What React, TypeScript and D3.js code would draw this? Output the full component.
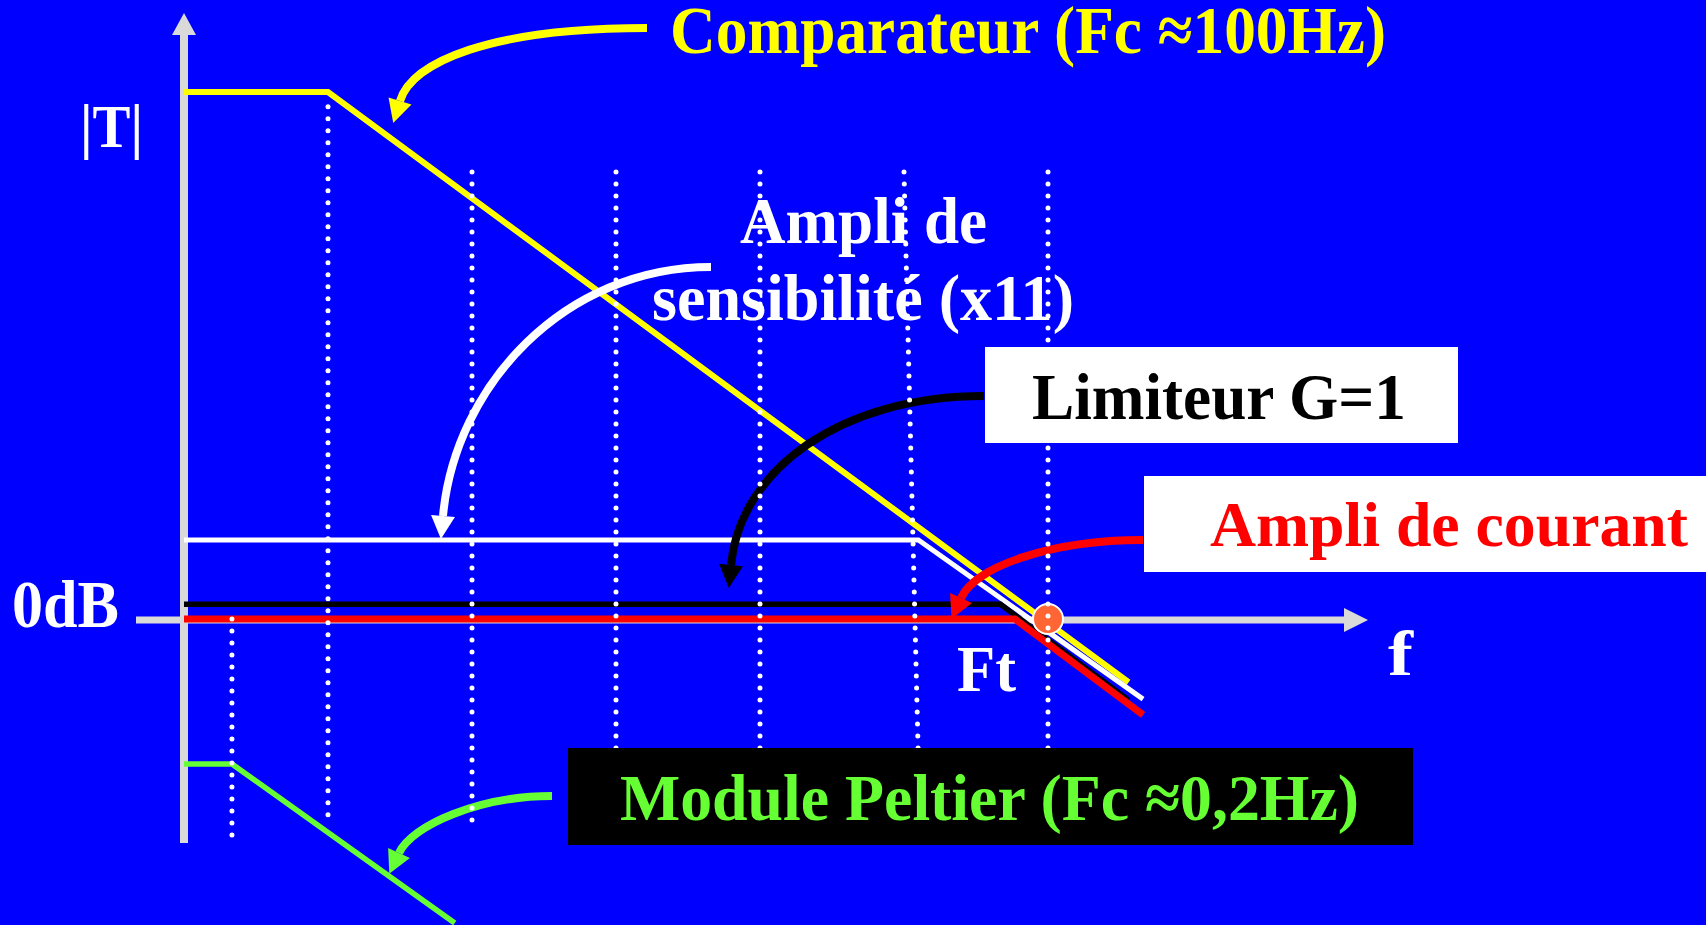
import * as d3 from 'd3';

// schematic Bode plot: x in decades from the |T| axis, y in dB
const gridDecades = [0.333, 1, 2, 3, 4, 5.0, 6];
const gridDecadesBottom = [0.333, 1, 2, 3, 4, 5.1, 6];
const gridTopDb = [0, 97.2, 84.8, 84.8, 84.8, 84.8, 84.8];
const gridBottomDb = [-41.2, -37.4, -40.4, -27, -27, -27, -27];

const comparateur: [number, number][] = [[0, 100], [1, 100], [6.56, -12]];
const sensibilite: [number, number][] = [[0, 15], [5.1, 15], [6.66, -15.2]];
const limiteur: [number, number][] = [[0, 2.8], [5.67, 2.8], [6.56, -15.4]];
const courant: [number, number][] = [[0, 0], [5.77, 0], [6.66, -18.2]];
const peltier: [number, number][] = [[0, -27.5], [0.333, -27.5], [1.88, -57.7]];

const ftDecade = 6;

const W = 1706;
const H = 925;
const FONT = '"Liberation Serif", "Times New Roman", serif';
const AXIS = '#D9D9D9';

const x = d3.scaleLinear().domain([0, 6]).range([184, 1048]);
const y = d3.scaleLinear().domain([0, 100]).range([619, 92]);
const line = d3.line<[number, number]>().x((d) => x(d[0])).y((d) => y(d[1]));

const series = [
  { data: comparateur, color: '#FFFF00', width: 6 },
  { data: sensibilite, color: '#FFFFFF', width: 5 },
  { data: limiteur, color: '#000000', width: 5.5 },
  { data: courant, color: '#FF0000', width: 7 },
  { data: peltier, color: '#66FF33', width: 5.5 },
];

type Pt = [number, number];
interface CurvedArrow {
  color: string;
  start: Pt;
  c1: Pt;
  c2: Pt;
  base: Pt;
}

const arrows: CurvedArrow[] = [
  { color: '#FFFF00', start: [647, 28], c1: [490, 28], c2: [412, 62], base: [400, 101] },
  { color: '#FFFFFF', start: [711, 267], c1: [565, 267], c2: [455, 385], base: [443, 516] },
  { color: '#000000', start: [984, 396], c1: [840, 396], c2: [740, 470], base: [731, 565] },
  { color: '#FF0000', start: [1143, 540], c1: [1050, 540], c2: [975, 567], base: [961, 598] },
  { color: '#66FF33', start: [552, 796], c1: [480, 796], c2: [412, 825], base: [399, 853] },
];

function arrowHead(a: CurvedArrow, len = 23, half = 12) {
  const dx = a.base[0] - a.c2[0];
  const dy = a.base[1] - a.c2[1];
  const n = Math.hypot(dx, dy);
  const ux = dx / n;
  const uy = dy / n;
  const tip = [a.base[0] + ux * len, a.base[1] + uy * len];
  const l = [a.base[0] - uy * half, a.base[1] + ux * half];
  const r = [a.base[0] + uy * half, a.base[1] - ux * half];
  return `M${tip[0]},${tip[1]}L${l[0]},${l[1]}L${r[0]},${r[1]}Z`;
}

function Label(props: { text: string; x0: number; x1: number; base: number; size: number; fill: string }) {
  return (
    <text
      x={props.x0}
      y={props.base}
      fill={props.fill}
      fontSize={props.size}
      fontWeight="bold"
      fontFamily={FONT}
      textLength={props.x1 - props.x0}
      lengthAdjust="spacingAndGlyphs"
    >
      {props.text}
    </text>
  );
}

export default function App() {
  const y0 = y(0);
  return (
    <svg
      width={W}
      height={H}
      viewBox={`0 0 ${W} ${H}`}
      style={{ position: 'absolute', left: 0, top: 0, display: 'block' }}
    >
      <rect width={W} height={H} fill="#0000FF" />

      {/* axes */}
      <line x1={x(0)} x2={x(0)} y1={843} y2={34} stroke={AXIS} strokeWidth={8} />
      <path d={`M${x(0)},13L${x(0) - 12},35L${x(0) + 12},35Z`} fill={AXIS} />
      <line x1={136} x2={1345} y1={y0 + 1} y2={y0 + 1} stroke={AXIS} strokeWidth={7} />
      <path d={`M1368,${y0 + 1}L1344,${y0 - 11}L1344,${y0 + 13}Z`} fill={AXIS} />

      {/* asymptotes */}
      {series.map((s, i) => (
        <path
          key={i}
          d={line(s.data) ?? ''}
          fill="none"
          stroke={s.color}
          strokeWidth={s.width}
          strokeLinejoin="miter"
        />
      ))}

      {/* curved pointers */}
      {arrows.map((a, i) => (
        <g key={i}>
          <path
            d={`M${a.start[0]},${a.start[1]}C${a.c1[0]},${a.c1[1]} ${a.c2[0]},${a.c2[1]} ${a.base[0]},${a.base[1]}`}
            fill="none"
            stroke={a.color}
            strokeWidth={8}
          />
          <path d={arrowHead(a)} fill={a.color} />
        </g>
      ))}

      {/* Ft point */}
      <circle cx={x(ftDecade)} cy={y0} r={15} fill="#FF6633" stroke="#FFFFFF" strokeWidth={2} />

      {/* dotted decade lines */}
      {gridDecades.map((d, i) => (
        <line
          key={i}
          x1={x(d)}
          x2={x(gridDecadesBottom[i])}
          y1={y(gridTopDb[i])}
          y2={y(gridBottomDb[i])}
          stroke="#FFFFFF"
          strokeWidth={5}
          strokeLinecap="round"
          strokeDasharray="0 12"
        />
      ))}

      {/* labels */}
      <Label text="Comparateur (Fc ≈100Hz)" x0={670} x1={1386} base={53} size={67} fill="#FFFF00" />
      <Label text="|T|" x0={80} x1={143} base={147} size={62} fill="#FFFFFF" />
      <Label text="Ampli de" x0={740} x1={987} base={243} size={66} fill="#FFFFFF" />
      <Label text="sensibilité (x11)" x0={652} x1={1074} base={320} size={66} fill="#FFFFFF" />
      <Label text="0dB" x0={12} x1={119} base={627} size={67} fill="#FFFFFF" />
      <Label text="Ft" x0={957} x1={1016} base={691} size={66} fill="#FFFFFF" />
      <Label text="f" x0={1388} x1={1413} base={675} size={64} fill="#FFFFFF" />

      <rect x={985} y={347} width={473} height={96} fill="#FFFFFF" />
      <Label text="Limiteur G=1" x0={1032} x1={1406} base={419} size={65} fill="#000000" />

      <rect x={1144} y={476} width={562} height={96} fill="#FFFFFF" />
      <Label text="Ampli de courant" x0={1210} x1={1688} base={546} size={64} fill="#FF0000" />

      <rect x={568} y={748} width={845} height={97} fill="#000000" />
      <Label text="Module Peltier (Fc ≈0,2Hz)" x0={620} x1={1359} base={820} size={66} fill="#66FF33" />
    </svg>
  );
}
